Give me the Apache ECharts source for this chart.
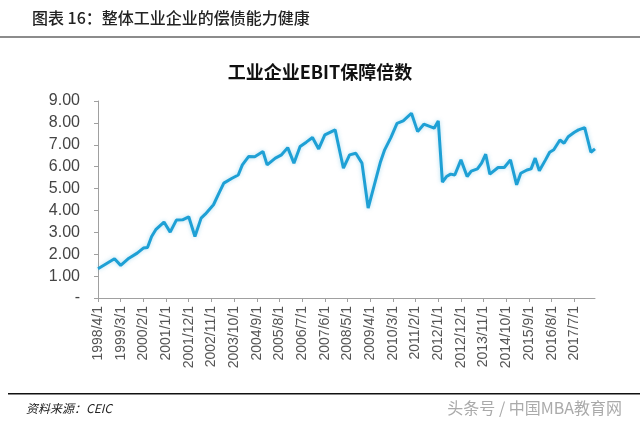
<!DOCTYPE html>
<html>
<head>
<meta charset="utf-8">
<script src="https://cdn.jsdelivr.net/npm/echarts@6/dist/echarts.min.js"></script>
<style>
html,body{margin:0;padding:0;background:#fff;}
#c{width:640px;height:424px;}
</style>
</head>
<body>
<div id="c"></div>
<script>
// ---- data ----
const pageTitle = '图表 16：整体工业企业的偿债能力健康';
const chartTitle = '工业企业EBIT保障倍数';
const sourceNote = '资料来源：CEIC';
const watermark = '头条号 / 中国MBA教育网';

// monthly category axis: 1998/4/1 ... 2018/5/1
const firstYear = 1998, firstMonth = 4, monthCount = 242;

const yTickLabels = ['-', '1.00', '2.00', '3.00', '4.00', '5.00', '6.00', '7.00', '8.00', '9.00'];

const pointDates = [
  '1998/4/1','1998/12/1','1999/3/1','1999/7/1','1999/11/1','2000/2/1','2000/4/1','2000/6/1','2000/8/1','2000/12/1',
  '2001/3/1','2001/6/1','2001/9/1','2001/12/1','2002/3/1','2002/6/1','2002/8/1','2002/12/1','2003/3/1','2003/5/1',
  '2003/9/1','2003/12/1','2004/2/1','2004/5/1','2004/8/1','2004/12/1','2005/2/1','2005/6/1','2005/9/1','2005/12/1',
  '2006/3/1','2006/6/1','2006/9/1','2006/12/1','2007/3/1','2007/6/1','2007/11/1','2008/3/1','2008/6/1','2008/9/1',
  '2008/12/1','2009/3/1','2009/6/1','2009/9/1','2009/11/1','2010/2/1','2010/5/1','2010/8/1','2010/12/1','2011/3/1',
  '2011/6/1','2011/11/1','2012/1/1','2012/3/1','2012/5/1','2012/7/1','2012/9/1','2012/12/1','2013/3/1','2013/5/1',
  '2013/8/1','2013/10/1','2013/12/1','2014/2/1','2014/6/1','2014/9/1','2014/12/1','2015/3/1','2015/5/1','2015/8/1',
  '2015/10/1','2015/12/1','2016/2/1','2016/5/1','2016/7/1','2016/9/1','2016/12/1','2017/2/1','2017/4/1','2017/7/1',
  '2017/9/1','2017/12/1','2018/3/1','2018/5/1'
];
const pointValues = [
  1.34,1.79,1.49,1.82,2.05,2.28,2.31,2.81,3.12,3.47,
  3.01,3.56,3.57,3.71,2.81,3.65,3.83,4.26,4.86,5.25,
  5.47,5.62,6.08,6.46,6.45,6.69,6.08,6.39,6.54,6.87,
  6.16,6.92,7.12,7.33,6.81,7.45,7.68,5.93,6.54,6.61,
  6.16,4.11,5.17,6.23,6.77,7.33,7.98,8.09,8.44,7.60,
  7.94,7.76,8.09,5.29,5.55,5.66,5.62,6.31,5.55,5.80,
  5.90,6.16,6.57,5.66,5.96,5.96,6.31,5.17,5.70,5.85,
  5.90,6.39,5.81,6.31,6.66,6.77,7.22,7.07,7.37,7.57,
  7.68,7.78,6.66,6.81
];

// ---- build ----
const categories = [];
for (let i = 0; i < monthCount; i++) {
  const t = firstMonth - 1 + i;
  categories.push((firstYear + Math.floor(t / 12)) + '/' + (t % 12 + 1) + '/1');
}
const seriesData = pointDates.map((d, i) => [d, pointValues[i]]);

const chart = echarts.init(document.getElementById('c'), null, {renderer: 'canvas'});
chart.setOption({
  backgroundColor: '#ffffff',
  animation: false,
  title: {
    text: chartTitle,
    left: 'center',
    top: 58,
    textStyle: {fontFamily: 'Noto Sans CJK SC', fontSize: 18, fontWeight: 'bold', color: '#111'}
  },
  grid: {left: 98, right: 45, top: 101, bottom: 126},
  xAxis: {
    type: 'category',
    boundaryGap: false,
    data: categories,
    axisLine: {lineStyle: {color: '#a0a0a0', width: 1}},
    axisTick: {interval: 10, length: 4, lineStyle: {color: '#a0a0a0'}},
    axisLabel: {
      interval: 10, rotate: 90, margin: 8,
      fontFamily: 'Liberation Sans', fontSize: 14, color: '#555'
    },
    splitLine: {show: false}
  },
  yAxis: {
    type: 'value',
    min: 0, max: 9, interval: 1,
    axisLine: {show: true, lineStyle: {color: '#a0a0a0', width: 1}},
    axisTick: {show: true, length: 4, lineStyle: {color: '#a0a0a0'}},
    axisLabel: {
      margin: 18,
      fontFamily: 'Liberation Sans', fontSize: 16, color: '#444',
      formatter: function (v) { return yTickLabels[Math.round(v)]; }
    },
    splitLine: {show: false}
  },
  series: [{
    type: 'line',
    data: seriesData,
    showSymbol: false,
    smooth: false,
    lineStyle: {color: '#1ea0d5', width: 3, shadowColor: 'rgba(30,160,215,0.35)', shadowBlur: 4}
  }],
  graphic: [
    {type: 'text', left: 32, top: 10,
     style: {text: pageTitle, font: '500 16px "Noto Sans CJK SC"', fill: '#222'}},
    {type: 'rect', shape: {x: 0, y: 36, width: 640, height: 2}, style: {fill: '#8c8c8c'}},
    {type: 'rect', shape: {x: 8, y: 393, width: 632, height: 1.5}, style: {fill: '#111'}},
    {type: 'text', left: 26, top: 402,
     style: {text: sourceNote, font: 'italic 12px "Noto Sans CJK SC"', fill: '#222'}},
    {type: 'text', right: 18, top: 400,
     style: {text: watermark, font: '16px "Noto Sans CJK SC"', fill: '#aaa'}}
  ]
});
</script>
</body>
</html>
